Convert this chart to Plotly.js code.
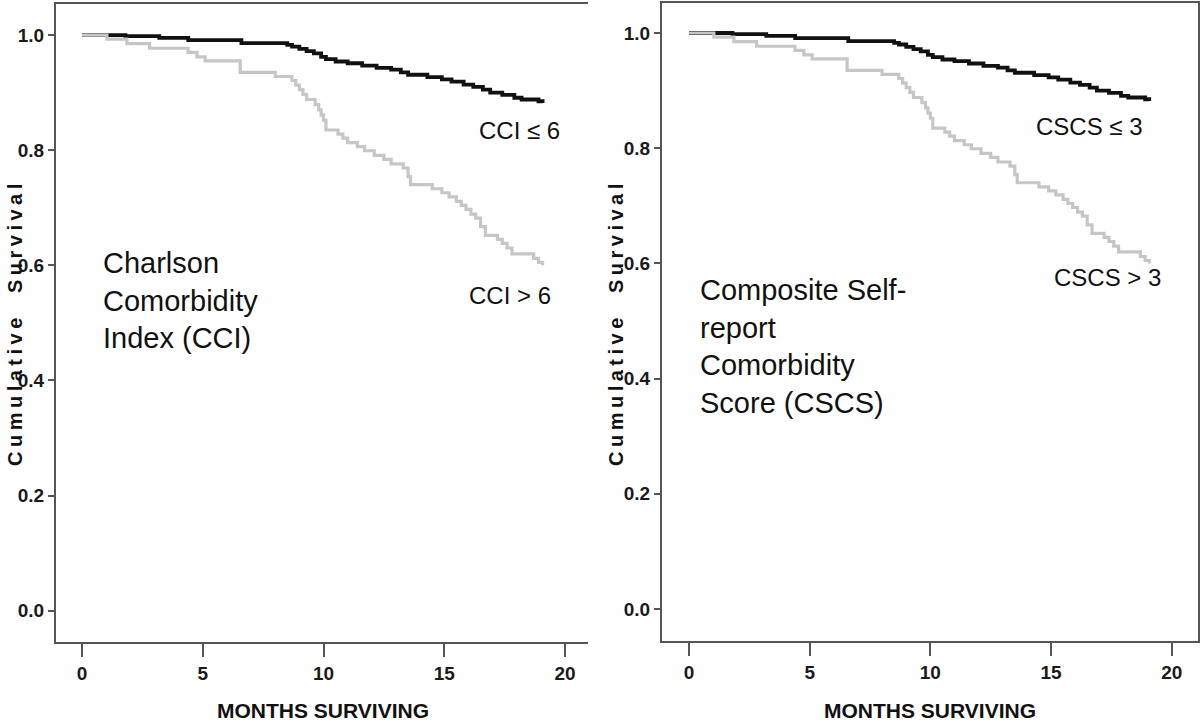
<!DOCTYPE html>
<html>
<head>
<meta charset="utf-8">
<script src="https://cdn.plot.ly/plotly-3.0.1.min.js"></script>
<style>html,body{margin:0;padding:0;background:#fff;}#chart{width:1200px;height:723px;}</style>
</head>
<body>
<div id="chart"></div>
<script>
// ---- Data ----
// Left panel: Charlson Comorbidity Index
const cciLowMonths = [0, 1.8, 3.2, 4.4, 6.6, 8.5, 8.7, 9.0, 9.3, 9.6, 9.9, 10.1, 10.5, 11.0, 11.6, 12.2, 12.8, 13.2, 13.5, 14.3, 14.9, 15.3, 15.8, 16.2, 16.6, 16.9, 17.4, 17.9, 18.2, 18.9, 19.07];
const cciLowSurv   = [1.0, 0.998, 0.995, 0.991, 0.986, 0.983, 0.980, 0.976, 0.972, 0.968, 0.962, 0.958, 0.954, 0.951, 0.947, 0.943, 0.940, 0.935, 0.931, 0.927, 0.923, 0.919, 0.914, 0.910, 0.905, 0.900, 0.896, 0.891, 0.888, 0.885, 0.882];
const cciHighMonths = [0, 1.03, 1.86, 2.80, 4.39, 4.76, 5.10, 6.55, 8.00, 8.69, 8.85, 9.00, 9.15, 9.30, 9.65, 9.80, 9.90, 10.0, 10.1, 10.6, 10.8, 11.0, 11.4, 11.7, 12.1, 12.5, 12.8, 13.3, 13.5, 13.6, 14.5, 14.9, 15.2, 15.5, 15.7, 15.9, 16.1, 16.3, 16.5, 16.7, 17.2, 17.4, 17.6, 17.8, 18.7, 18.9, 19.07];
const cciHighSurv   = [1.0, 0.993, 0.985, 0.977, 0.970, 0.962, 0.955, 0.935, 0.928, 0.921, 0.913, 0.905, 0.897, 0.888, 0.879, 0.870, 0.861, 0.852, 0.835, 0.828, 0.821, 0.813, 0.806, 0.799, 0.791, 0.784, 0.776, 0.769, 0.754, 0.740, 0.733, 0.726, 0.719, 0.711, 0.704, 0.697, 0.689, 0.682, 0.667, 0.652, 0.645, 0.638, 0.630, 0.620, 0.612, 0.605, 0.600];
// Right panel: Composite Self-report Comorbidity Score
const cscsLowMonths = [0, 1.8, 3.2, 4.4, 6.6, 8.5, 8.7, 9.0, 9.3, 9.6, 9.9, 10.1, 10.5, 11.0, 11.6, 12.2, 12.8, 13.2, 13.5, 14.3, 14.9, 15.3, 15.8, 16.2, 16.6, 16.9, 17.4, 17.9, 18.2, 18.9, 19.07];
const cscsLowSurv   = [1.0, 0.998, 0.995, 0.991, 0.986, 0.983, 0.980, 0.976, 0.972, 0.968, 0.962, 0.958, 0.954, 0.951, 0.947, 0.943, 0.940, 0.935, 0.931, 0.927, 0.923, 0.919, 0.914, 0.910, 0.905, 0.900, 0.896, 0.891, 0.888, 0.885, 0.882];
const cscsHighMonths = [0, 1.03, 1.86, 2.80, 4.39, 4.76, 5.10, 6.55, 8.00, 8.69, 8.85, 9.00, 9.15, 9.30, 9.65, 9.80, 9.90, 10.0, 10.1, 10.6, 10.8, 11.0, 11.4, 11.7, 12.1, 12.5, 12.8, 13.3, 13.5, 13.6, 14.5, 14.9, 15.2, 15.5, 15.7, 15.9, 16.1, 16.3, 16.5, 16.7, 17.2, 17.4, 17.6, 17.8, 18.7, 18.9, 19.07];
const cscsHighSurv   = [1.0, 0.993, 0.985, 0.977, 0.970, 0.962, 0.955, 0.935, 0.928, 0.921, 0.913, 0.905, 0.897, 0.888, 0.879, 0.870, 0.861, 0.852, 0.835, 0.828, 0.821, 0.813, 0.806, 0.799, 0.791, 0.784, 0.776, 0.769, 0.754, 0.740, 0.733, 0.726, 0.719, 0.711, 0.704, 0.697, 0.689, 0.682, 0.667, 0.652, 0.645, 0.638, 0.630, 0.620, 0.612, 0.605, 0.600];

const xTickVals = [0, 5, 10, 15, 20];
const yTickVals = [0.0, 0.2, 0.4, 0.6, 0.8, 1.0];
const xTitle = 'MONTHS SURVIVING';
const yTitle = 'Cumulative\u00a0\u00a0Survival';
const leftLabels = ['CCI \u2264 6', 'CCI > 6', 'Charlson<br>Comorbidity<br>Index (CCI)'];
const rightLabels = ['CSCS \u2264 3', 'CSCS > 3', 'Composite Self-<br>report<br>Comorbidity<br>Score (CSCS)'];

// ---- Styling ----
const W = 1200, H = 723;
const BLACK = '#111111', GRAY = '#c6c6c6', AXIS = '#555555';
const tickFont = {family: 'Liberation Sans, Arial, sans-serif', size: 19, color: '#1a1a1a', weight: 'bold'};
const labelFont = {family: 'Liberation Sans, Arial, sans-serif', size: 24, color: '#111'};
const bigFont = {family: 'Liberation Sans, Arial, sans-serif', size: 29, color: '#111'};
const yTitleFont = {family: 'Liberation Sans, Arial, sans-serif', size: 20, color: '#111', weight: 'bold'};
const xTitleFont = {family: 'Liberation Sans, Arial, sans-serif', size: 21, color: '#111', weight: 'bold'};

function trace(x, y, color, width, xa, ya) {
  return {x: x, y: y, type: 'scatter', mode: 'lines', line: {shape: 'hv', color: color, width: width},
          xaxis: xa, yaxis: ya, hoverinfo: 'skip', showlegend: false};
}

const data = [
  trace(cciLowMonths, cciLowSurv, BLACK, 3.8, 'x', 'y'),
  trace(cciHighMonths, cciHighSurv, GRAY, 3.2, 'x', 'y'),
  trace(cscsLowMonths, cscsLowSurv, BLACK, 3.8, 'x2', 'y2'),
  trace(cscsHighMonths, cscsHighSurv, GRAY, 3.2, 'x2', 'y2')
];

function xax(domain, range, mirror) {
  return {domain: domain, range: range, tickvals: xTickVals, ticks: 'outside', ticklen: 13, tickwidth: 2, tickcolor: AXIS,
          showline: true, linecolor: AXIS, linewidth: 2, mirror: mirror, showgrid: false, zeroline: false,
          tickfont: tickFont, fixedrange: true};
}
function yax(domain, range, mirror, anchor) {
  return {domain: domain, range: range, tickvals: yTickVals, tickformat: '.1f', ticks: 'outside', ticklen: 6, tickwidth: 2, tickcolor: AXIS,
          showline: true, linecolor: AXIS, linewidth: 2, mirror: mirror, showgrid: false, zeroline: false,
          tickfont: tickFont, anchor: anchor, fixedrange: true};
}

const px = v => v / W;
const py = v => 1 - v / H;

function ann(text, x, y, font, xanchor, xref, yref) {
  return {text: text, x: x, y: y, xref: xref || 'paper', yref: yref || 'paper', showarrow: false,
          font: font, xanchor: xanchor || 'center', yanchor: 'middle', align: 'left'};
}

const yTitleText = '<span style="letter-spacing:4.5px">' + yTitle + '</span>';

const annotations = [
  ann(leftLabels[0], (520 - 81.7) / 24.17, 1 - (130 - 35) / 575.7, labelFont, 'center', 'x', 'y'),
  ann(leftLabels[1], (510 - 81.7) / 24.17, 1 - (295 - 35) / 575.7, labelFont, 'center', 'x', 'y'),
  ann(leftLabels[2], px(101), py(300), bigFont, 'left'),
  ann(rightLabels[0], (1089 - 689) / 24.13, 1 - (127 - 33) / 576, labelFont, 'center', 'x2', 'y2'),
  ann(rightLabels[1], (1107 - 689) / 24.13, 1 - (278 - 33) / 576, labelFont, 'center', 'x2', 'y2'),
  ann(rightLabels[2], px(698), py(346), bigFont, 'left'),
  Object.assign(ann(yTitleText, px(15), py(323), yTitleFont), {textangle: -90}),
  Object.assign(ann(yTitleText, px(616), py(323), yTitleFont), {textangle: -90}),
  ann(xTitle, px(323), py(710), xTitleFont),
  ann(xTitle, px(930), py(710), xTitleFont)
];

const layout = {
  width: W, height: H,
  margin: {l: 0, r: 0, t: 0, b: 0, pad: 0},
  paper_bgcolor: '#ffffff', plot_bgcolor: '#ffffff',
  showlegend: false,
  xaxis: xax([px(56), px(588)], [-1.076, 20.95], true),
  yaxis: yax([py(642), py(4)], [-0.0544, 1.0539], false, 'x'),
  xaxis2: Object.assign(xax([px(662), px(1198)], [-1.119, 21.09], true), {anchor: 'y2'}),
  yaxis2: yax([py(641), py(2.7)], [-0.0556, 1.0526], true, 'x2'),
  annotations: annotations
};

Plotly.newPlot('chart', data, layout, {staticPlot: true, displayModeBar: false});
</script>
</body>
</html>
